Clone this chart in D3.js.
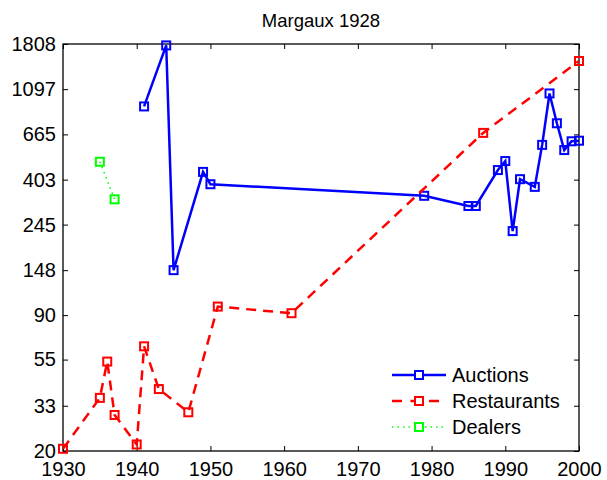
<!DOCTYPE html>
<html>
<head>
<meta charset="utf-8">
<script src="https://cdn.jsdelivr.net/npm/d3@7"></script>
<style>
  body { margin: 0; background: #fff; }
  svg text { font-family: "Liberation Sans", Arial, Helvetica, sans-serif; fill: #000; }
</style>
</head>
<body>
<svg id="chart" width="607" height="480"></svg>
<script>
const auctionYears = [1941, 1944, 1945, 1949, 1950, 1979, 1985, 1986, 1989, 1990, 1991, 1992, 1994, 1995, 1996, 1997, 1998, 1999, 2000];
const auctionPrices = [906, 1780, 148, 439, 383, 337, 301, 301, 448, 495, 228, 405, 372, 592, 1046, 752, 559, 616, 620];

const restaurantYears = [1930, 1935, 1936, 1937, 1940, 1941, 1943, 1947, 1951, 1961, 1987, 2000];
const restaurantPrices = [20.5, 36, 53.8, 29.8, 21.5, 63.7, 39.7, 30.7, 98.9, 91.9, 676, 1498];

const dealerYears = [1935, 1937];
const dealerPrices = [491, 324];

const xTicks = [1930, 1940, 1950, 1960, 1970, 1980, 1990, 2000];
const yTicks = [20, 33, 55, 90, 148, 245, 403, 665, 1097, 1808];

const series = [
  { name: 'Auctions', years: auctionYears, prices: auctionPrices, color: '#0000ff', dash: null, width: 2.5 },
  { name: 'Restaurants', years: restaurantYears, prices: restaurantPrices, color: '#ff0000', dash: '10,7', width: 2.5 },
  { name: 'Dealers', years: dealerYears, prices: dealerPrices, color: '#00ff00', dash: '1.5,4', width: 1.5 }
];

const margin = { top: 44, right: 28, bottom: 29, left: 63 };
const width = 607 - margin.left - margin.right;
const height = 480 - margin.top - margin.bottom;

const svg = d3.select('#chart');
const g = svg.append('g').attr('transform', `translate(${margin.left},${margin.top})`);

const x = d3.scaleLinear().domain([1930, 2000]).range([0, width]);
const y = d3.scaleLog().domain([20, 1808]).range([height, 0]);

// axes (MATLAB style: ticks inward on all four sides)
const tickLen = 5;
const styleAxis = sel => {
  sel.select('.domain').remove();
  sel.selectAll('.tick line').attr('stroke', '#000').attr('stroke-width', 1);
  sel.selectAll('text').style('font-size', '20px');
};

g.append('g')
  .attr('transform', `translate(0,${height})`)
  .call(d3.axisBottom(x).tickValues(xTicks).tickFormat(d3.format('d')).tickSizeInner(-tickLen).tickPadding(11))
  .call(styleAxis);
g.append('g')
  .call(d3.axisTop(x).tickValues(xTicks).tickFormat('').tickSizeInner(-tickLen))
  .call(styleAxis);
g.append('g')
  .call(d3.axisLeft(y).tickValues(yTicks).tickFormat(d3.format('d')).tickSizeInner(-tickLen).tickPadding(7))
  .call(styleAxis);
g.append('g')
  .attr('transform', `translate(${width},0)`)
  .call(d3.axisRight(y).tickValues(yTicks).tickFormat('').tickSizeInner(-tickLen))
  .call(styleAxis);

g.append('rect')
  .attr('width', width)
  .attr('height', height)
  .attr('fill', 'none')
  .attr('stroke', '#000')
  .attr('stroke-width', 1.3);

// lines and markers
const line = d3.line().x(d => x(d[0])).y(d => y(d[1]));
const markerSize = 8;

series.forEach(s => {
  const pts = s.years.map((yr, i) => [yr, s.prices[i]]);
  g.append('path')
    .attr('d', line(pts))
    .attr('fill', 'none')
    .attr('stroke', s.color)
    .attr('stroke-width', s.width)
    .attr('stroke-dasharray', s.dash);
  g.selectAll(null)
    .data(pts)
    .enter()
    .append('rect')
    .attr('x', d => x(d[0]) - markerSize / 2)
    .attr('y', d => y(d[1]) - markerSize / 2)
    .attr('width', markerSize)
    .attr('height', markerSize)
    .attr('fill', 'none')
    .attr('stroke', s.color)
    .attr('stroke-width', 2);
});

// title
svg.append('text')
  .attr('x', margin.left + width / 2)
  .attr('y', 27)
  .attr('text-anchor', 'middle')
  .style('font-size', '18.5px')
  .text('Margaux 1928');

// legend
const legend = svg.append('g').attr('transform', 'translate(392,375)');
series.forEach((s, i) => {
  const row = legend.append('g').attr('transform', `translate(0,${i * 26})`);
  row.append('line')
    .attr('x1', 0).attr('x2', 54)
    .attr('stroke', s.color)
    .attr('stroke-width', s.width)
    .attr('stroke-dasharray', s.dash ? (i === 1 ? '10,8.5' : s.dash) : null);
  row.append('rect')
    .attr('x', 27 - markerSize / 2).attr('y', -markerSize / 2)
    .attr('width', markerSize).attr('height', markerSize)
    .attr('fill', 'white')
    .attr('stroke', s.color)
    .attr('stroke-width', 2);
  row.append('text')
    .attr('x', 60)
    .attr('dy', '0.35em')
    .style('font-size', '20px')
    .text(s.name);
});
</script>
</body>
</html>
